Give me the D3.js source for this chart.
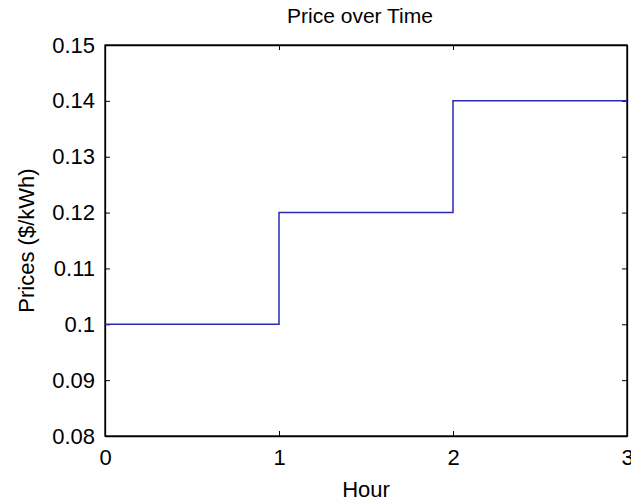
<!DOCTYPE html>
<html>
<head>
<meta charset="utf-8">
<script src="https://cdn.jsdelivr.net/npm/d3@7"></script>
<style>
  body { margin: 0; background: #fff; }
  text { font-family: "Liberation Sans", Arial, sans-serif; }
</style>
</head>
<body>
<div id="chart"></div>
<script>
// data
var hours = [0, 1, 2, 3];
var prices = [0.10, 0.12, 0.14, 0.14];
var xTicks = [0, 1, 2, 3];
var yTicks = [0.08, 0.09, 0.10, 0.11, 0.12, 0.13, 0.14, 0.15];

var width = 631, height = 504;
var margin = {top: 45, left: 105, right: 4, bottom: 68};
var w = width - margin.left - margin.right;
var h = height - margin.top - margin.bottom;

var svg = d3.select("#chart").append("svg")
    .attr("width", width)
    .attr("height", height);

var x = d3.scaleLinear().domain([0, 3]).range([0, w]);
var y = d3.scaleLinear().domain([0.08, 0.15]).range([h, 0]);

var g = svg.append("g")
    .attr("transform", "translate(" + margin.left + "," + margin.top + ")");

// 0.10 -> "0.1", like matlab
var yFmt = function (d) { return (+d.toFixed(2)).toString(); };

// bottom axis (ticks inward)
g.append("g")
    .attr("transform", "translate(0," + h + ")")
    .call(d3.axisBottom(x).tickValues(xTicks).tickSizeInner(-5).tickSizeOuter(0).tickPadding(13).tickFormat(d3.format("d")));
// top axis ticks
g.append("g")
    .call(d3.axisTop(x).tickValues(xTicks).tickSizeInner(-5).tickSizeOuter(0).tickFormat(""));
// left axis
g.append("g")
    .call(d3.axisLeft(y).tickValues(yTicks).tickSizeInner(-5).tickSizeOuter(0).tickPadding(10).tickFormat(yFmt));
// right axis ticks
g.append("g")
    .attr("transform", "translate(" + w + ",0)")
    .call(d3.axisRight(y).tickValues(yTicks).tickSizeInner(-5).tickSizeOuter(0).tickFormat(""));

g.selectAll(".domain").attr("stroke", "#000").attr("stroke-width", 1.3);
g.selectAll(".tick line").attr("stroke", "#000").attr("stroke-width", 1);
g.selectAll(".tick text").attr("font-size", "22px").attr("fill", "#000")
    .attr("font-family", "'Liberation Sans', Arial, sans-serif");

// box
g.append("rect")
    .attr("x", 0).attr("y", 0).attr("width", w).attr("height", h)
    .attr("fill", "none").attr("stroke", "#000").attr("stroke-width", 1.3);

// step line
var line = d3.line()
    .x(function (d, i) { return x(hours[i]); })
    .y(function (d) { return y(d); })
    .curve(d3.curveStepAfter);

g.append("path")
    .datum(prices)
    .attr("d", line)
    .attr("fill", "none")
    .attr("stroke", "#2a2ab0")
    .attr("stroke-width", 1.5);

// title
svg.append("text")
    .attr("x", margin.left + w / 2 - 6)
    .attr("y", 23)
    .attr("text-anchor", "middle")
    .attr("font-size", "21px")
    .text("Price over Time");

// x label
svg.append("text")
    .attr("x", margin.left + w / 2)
    .attr("y", 497)
    .attr("text-anchor", "middle")
    .attr("font-size", "22px")
    .text("Hour");

// y label
svg.append("text")
    .attr("transform", "translate(34," + (margin.top + h / 2) + ") rotate(-90)")
    .attr("text-anchor", "middle")
    .attr("font-size", "22px")
    .text("Prices ($/kWh)");
</script>
</body>
</html>
